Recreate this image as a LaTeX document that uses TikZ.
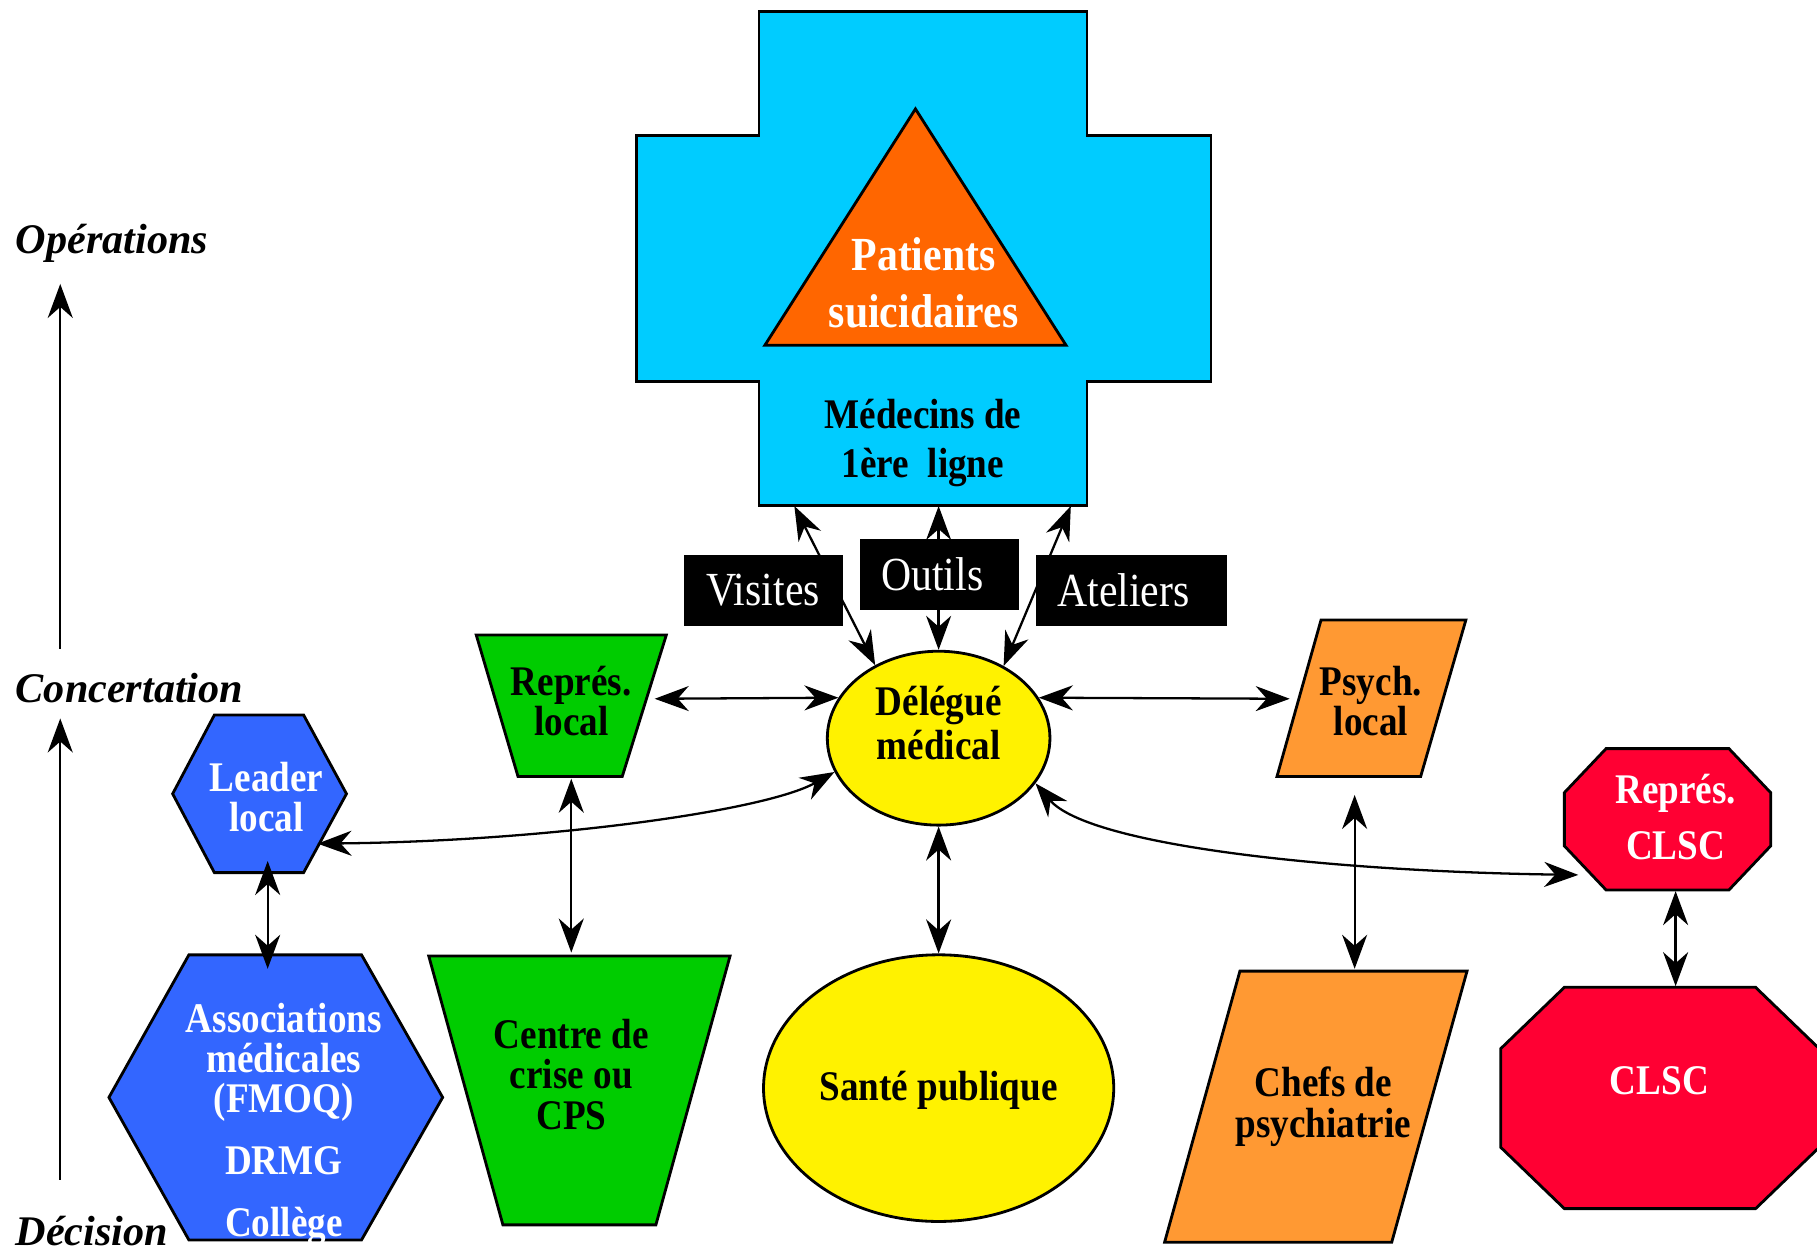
\documentclass[tikz,border=0pt]{standalone}
\usepackage{fontspec}
\setmainfont{Liberation Serif}[FakeStretch=0.88]
\newfontfamily\lvlfont{Liberation Serif}
\usetikzlibrary{arrows.meta,shapes.geometric}
\definecolor{crossblue}{HTML}{00CCFF}
\definecolor{patorange}{HTML}{FF6600}
\definecolor{grn}{HTML}{00CC00}
\definecolor{orng}{HTML}{FF9933}
\definecolor{rd}{HTML}{FF0033}
\definecolor{blu}{HTML}{3366FF}

\begin{document}
\begin{tikzpicture}[
  x=0.011588cm, y=-0.011588cm,
  every node/.style={font=\bfseries\fontsize{12}{11.5}\selectfont},
  txt/.style={align=center, inner sep=0pt},
  wtxt/.style={txt, text=white},
  shp/.style={draw, line width=0.8pt},
  lbl/.style={fill=black, text=white, inner sep=0pt, minimum height=0.707cm, font=\fontsize{13.5}{15}\selectfont},
  lvl/.style={anchor=west, inner sep=0pt, font=\lvlfont\bfseries\itshape\fontsize{12}{14}\selectfont},
  arr/.style={{Stealth[length=3.4mm,width=2.5mm,inset=1.1mm]}-{Stealth[length=3.4mm,width=2.5mm,inset=1.1mm]}, line width=0.65pt},
  up/.style={-{Stealth[length=3.4mm,width=2.5mm,inset=1.1mm]}, line width=0.65pt}
]
\useasboundingbox (0,0) rectangle (1568,1080);
% levels
\node[lvl] (op) at (13,210) {Opérations};
\node[lvl] (co) at (13,594) {Concertation};
\node[lvl] (de) at (13,1062) {Décision};
\coordinate (ax-d) at (52,1018);
\coordinate (ax-c) at (52,620);
\coordinate (ax-c2) at (52,560);
\coordinate (ax-o) at (52,245);
\draw[up] (ax-d) -- (ax-c);
\draw[up] (ax-c2) -- (ax-o);
% cross and patients
\draw[shp, fill=crossblue] (655,10) -- (938,10) -- (938,117) -- (1045,117) -- (1045,329) -- (938,329)
  -- (938,436) -- (655,436) -- (655,329) -- (549,329) -- (549,117) -- (655,117) -- cycle;
\draw[shp, fill=patorange] (790,94) -- (920,298) -- (660,298) -- cycle;
\node[wtxt, font=\bfseries\fontsize{13.5}{16}\selectfont] (pat) at (797,244) {Patients\\suicidaires};
\node[txt, minimum width=3.279cm, minimum height=1.240cm, font=\bfseries\fontsize{12}{14}\selectfont] (med) at (796.5,382.5) {Médecins de\\1ère\ \ ligne};
% delegue
\node[shp, ellipse, fill=yellow, minimum width=2.225cm, minimum height=1.738cm, inner sep=0pt] (dm) at (810,637) {};
\node[txt, font=\bfseries\fontsize{12}{12.5}\selectfont] (dm-t) at (810,624) {Délégué\\médical};
% green
\draw[shp, fill=grn] (411,548) -- (575,548) -- (537,670) -- (447,670) -- cycle;
\node[txt] (rl) at (493,605) {Représ.\\local};
\coordinate (rl-e) at (565,603);
\coordinate (rl-s) at (493,672);
\draw[shp, fill=grn] (370,825) -- (630,825) -- (566,1057) -- (434,1057) -- cycle;
\node[txt] (cc) at (493,927) {Centre de\\crise ou\\CPS};
\coordinate (cc-n) at (493,822);
% orange
\draw[shp, fill=orng] (1140,535) -- (1265,535) -- (1226,670) -- (1102,670) -- cycle;
\node[txt] (ps) at (1183,605) {Psych.\\local};
\coordinate (ps-w) at (1113,603);
\coordinate (ps-s) at (1169,686);
\draw[shp, fill=orng] (1070,838) -- (1266,838) -- (1201,1072) -- (1005,1072) -- cycle;
\node[txt] (ch) at (1142,955) {Chefs de\\psychiatrie};
\coordinate (ch-n) at (1169,836);
% blue
\draw[shp, fill=blu] (149,685) -- (185,617) -- (262,617) -- (299,685) -- (262,753) -- (185,753) -- cycle;
\node[wtxt] (ll) at (230,688) {Leader\\local};
\coordinate (ll-e) at (274,728);
\coordinate (ll-s) at (231,743);
\draw[shp, fill=blu] (94,947) -- (163,824) -- (312,824) -- (382,947) -- (312,1070) -- (163,1070) -- cycle;
\node[wtxt] (as) at (245,970) {Associations\\médicales\\(FMOQ)\\[6pt]DRMG\\[6pt]Collège};
\coordinate (as-n) at (231,836);
% red
\draw[shp, fill=rd] (1386,646) -- (1492,646) -- (1528,684) -- (1528,730) -- (1492,768) -- (1386,768) -- (1350,730) -- (1350,684) -- cycle;
\node[wtxt, font=\bfseries\fontsize{12}{16}\selectfont] (rc) at (1446,705) {Représ.\\CLSC};
\coordinate (rc-w) at (1362,755);
\coordinate (rc-s) at (1446,769);
\draw[shp, fill=rd] (1350,852) -- (1515,852) -- (1570,905) -- (1570,990) -- (1515,1043) -- (1350,1043) -- (1295,990) -- (1295,905) -- cycle;
\node[wtxt] (cl) at (1432,933) {CLSC};
\coordinate (cl-n) at (1446,851);
% sante
\node[shp, ellipse, fill=yellow, minimum width=3.5cm, minimum height=2.665cm, inner sep=0pt] (sp) at (810,939) {};
\node[txt] (sp-t) at (810,941) {Santé publique};
% links
\draw[arr] (med.206) -- (dm.131);
\draw[arr] (dm.north |- med.south) -- (dm.north);
\draw[arr] (med.337) -- (dm.48);
\draw[arr] (rl-e) -- (dm.158);
\draw[arr] (dm.22) -- (ps-w);
\draw[arr] (rl-s) -- (cc-n);
\draw[arr] (ll-s) -- (as-n);
\draw[arr] (dm.south) -- (sp.north);
\draw[arr] (ps-s) -- (ch-n);
\draw[arr] (rc-s) -- (cl-n);
\draw[arr] (ll-e) .. controls (470,726) and (660,700) .. (dm.198);
\draw[arr] (dm.335) .. controls (940,730) and (1150,752) .. (rc-w);
% tools
\node[lbl, minimum width=1.588cm] (vis) at (658.5,509.5) {Visites};
\node[lbl, minimum width=1.588cm] (out) at (810.5,495.5) {Outils\kern4pt};
\node[lbl, minimum width=1.912cm] (ate) at (976.5,509.5) {Ateliers\kern4.6pt};
\end{tikzpicture}
\end{document}
